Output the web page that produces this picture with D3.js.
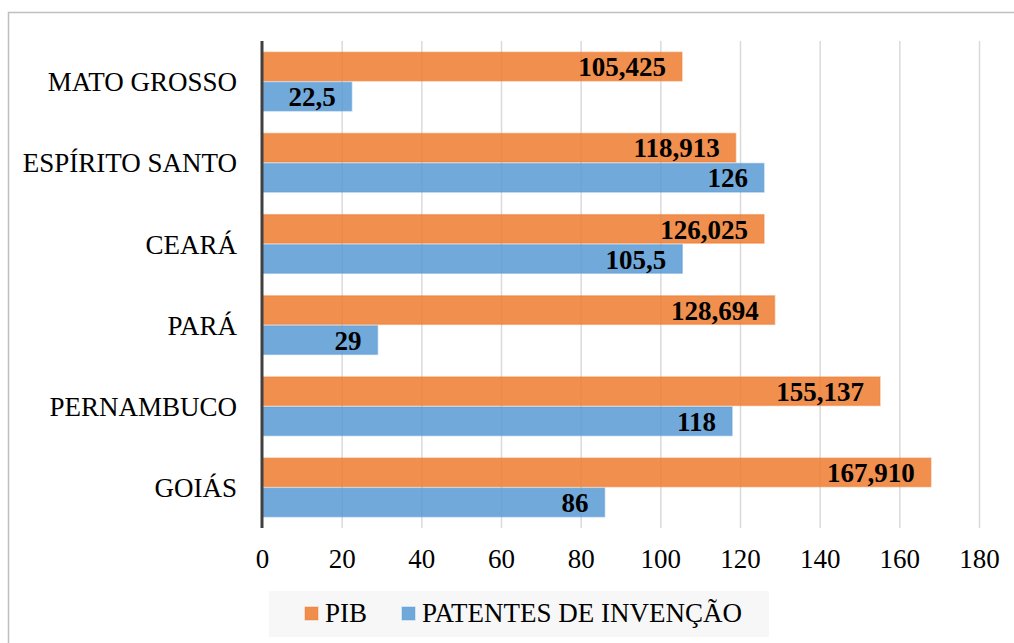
<!DOCTYPE html>
<html><head><meta charset="utf-8">
<script src="https://cdn.jsdelivr.net/npm/d3@7"></script>
<style>
html,body{margin:0;padding:0;background:#fff;}
svg{display:block;font-family:"Liberation Serif","Times New Roman",serif;}
</style></head>
<body>
<svg id="chart" width="1014" height="643"></svg>
<script>
const categories = ["MATO GROSSO","ESPÍRITO SANTO","CEARÁ","PARÁ","PERNAMBUCO","GOIÁS"];
const pibValues = [105.425, 118.913, 126.025, 128.694, 155.137, 167.910];
const patentValues = [22.5, 126, 105.5, 29, 118, 86];
const seriesNames = ["PIB","PATENTES DE INVENÇÃO"];
const xTicks = [0,20,40,60,80,100,120,140,160,180];

const colors = {"PIB":"#ED7D31","PATENTES DE INVENÇÃO":"#5B9BD5"};
const locale = d3.formatLocale({decimal:",", thousands:".", grouping:[3], currency:["R$",""]});
function ptFmt(spec){ return spec ? locale.format(spec) : (v => String(v).replace(".", ",")); }
const series = [
  {name: seriesNames[0], values: pibValues, fmt: v => ptFmt(".3f")(v)},
  {name: seriesNames[1], values: patentValues, fmt: v => ptFmt("")(v)}
];

const svg = d3.select("#chart");
const W = 1014, H = 643;
const FS = "27px";

// outer frame
svg.append("rect").attr("x",8.5).attr("y",12.5).attr("width",W).attr("height",H)
  .attr("fill","none").attr("stroke","#bfbfbf").attr("stroke-width",1.5);

const x = d3.scaleLinear().domain([0,180]).range([262,979]);
const y = d3.scaleBand().domain(categories).range([41,528]).paddingInner(0.26).paddingOuter(0.13);
const ySub = d3.scaleBand().domain(seriesNames).range([0, y.bandwidth()]);

// gradient for gridlines
const defs = svg.append("defs");
const grad = defs.append("linearGradient").attr("id","gridGrad")
  .attr("gradientUnits","userSpaceOnUse").attr("x1",0).attr("y1",41).attr("x2",0).attr("y2",528);
grad.append("stop").attr("offset","0%").attr("stop-color","#dadada");
grad.append("stop").attr("offset","100%").attr("stop-color","#a8a8a8");

// gridlines
const xAxisGrid = d3.axisBottom(x).tickValues(xTicks.slice(1)).tickSize(-(528-41)).tickFormat("");
const gGrid = svg.append("g").attr("transform","translate(0,528)").call(xAxisGrid);
gGrid.select(".domain").remove();
gGrid.selectAll("line").attr("stroke","url(#gridGrad)").attr("stroke-width",1.5);

// tick labels
const xAxis = d3.axisBottom(x).tickValues(xTicks).tickSize(0).tickPadding(0).tickFormat(d3.format("d"));
const gX = svg.append("g").attr("transform","translate(0,568)").call(xAxis);
gX.select(".domain").remove();
gX.selectAll("text").attr("font-size",FS).attr("fill","#000")
  .attr("font-family","Liberation Serif, serif").attr("dy",0).attr("y",0);

// bars
const groups = svg.selectAll(".cat").data(categories).join("g")
  .attr("class","cat").attr("transform", d => `translate(0,${y(d)})`);

series.forEach(s => {
  groups.append("rect")
    .attr("x", x(0))
    .attr("y", ySub(s.name) + 0.75)
    .attr("height", ySub.bandwidth() - 1.5)
    .attr("width", (d,i) => x(s.values[i]) - x(0))
    .attr("fill", colors[s.name]).attr("fill-opacity",0.86)
    .attr("stroke", colors[s.name]).attr("stroke-opacity",0.45).attr("stroke-width",1.5);
  groups.append("text")
    .attr("x", (d,i) => x(s.values[i]) - 16)
    .attr("y", ySub(s.name) + ySub.bandwidth()/2)
    .attr("dy","0.36em")
    .attr("text-anchor","end")
    .attr("font-weight","bold").attr("font-size",FS).attr("fill","#000")
    .text((d,i) => s.fmt(s.values[i]));
});

// category axis
const yAxis = d3.axisLeft(y).tickSize(0).tickPadding(0);
const gY = svg.append("g").attr("transform","translate(237,0)").call(yAxis);
gY.select(".domain").remove();
gY.selectAll("text").attr("font-size",FS).attr("fill","#000")
  .attr("font-family","Liberation Serif, serif").attr("dy","0.36em");

// vertical axis line
svg.append("line").attr("x1",x(0)).attr("x2",x(0)).attr("y1",41).attr("y2",528)
  .attr("stroke","#404040").attr("stroke-width",3);

// legend
const lg = svg.append("g");
lg.append("rect").attr("x",269).attr("y",591).attr("width",500).attr("height",46).attr("fill","#f7f7f7");
const legendItems = [{name:seriesNames[0], sx:305, tx:325},{name:seriesNames[1], sx:402, tx:422}];
legendItems.forEach(it => {
  lg.append("rect").attr("x",it.sx).attr("y",607).attr("width",13).attr("height",13)
    .attr("fill",colors[it.name]).attr("fill-opacity",0.86)
    .attr("stroke",colors[it.name]).attr("stroke-opacity",0.45);
  lg.append("text").attr("x",it.tx).attr("y",622).attr("font-size",FS).attr("fill","#000")
    .text(it.name);
});
</script>
</body></html>
